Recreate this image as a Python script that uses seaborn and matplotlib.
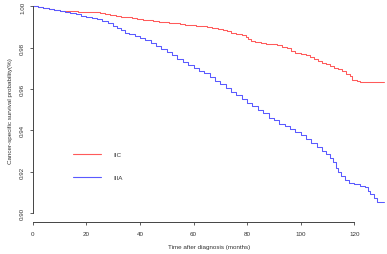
import matplotlib
matplotlib.use("Agg")
import matplotlib.pyplot as plt
import seaborn as sns
import pandas as pd
from matplotlib.lines import Line2D

groups = ["IIC", "IIIA"]
colors = ["#FF5A5A", "#5A5AFF"]

time_iic = [0, 2, 4, 6, 8, 10, 12, 14, 17, 20, 23, 25, 27, 29, 31, 33, 35, 37, 39, 41, 43,
            45, 47, 49, 51, 53, 55, 57, 59, 61, 63, 65, 67, 69, 71, 72.5, 74, 76, 78, 79.5,
            80.5, 81.5, 83, 85, 87, 89, 91, 93, 95, 96.5, 98, 100, 102, 103.5, 105, 106.5,
            108, 109.5, 111, 112.5, 114, 115.5, 117, 118.5, 119, 121, 122, 131]
surv_iic = [1.0, .9997, .9993, .9988, .9984, .9980, .9977, .9976, .9975, .9973, .9972, .9967,
            .9962, .9958, .9954, .9951, .9948, .9944, .9940, .9937, .9934, .9931, .9927, .9923,
            .9921, .9918, .9915, .9912, .9910, .9907, .9904, .9900, .9896, .9891, .9885, .9879,
            .9873, .9866, .9860, .9852, .9842, .9835, .9829, .9824, .9820, .9816, .9812, .9806,
            .9798, .9786, .9777, .9771, .9763, .9755, .9746, .9737, .9728, .9720, .9712, .9703,
            .9695, .9687, .9675, .9665, .9645, .9640, .9633, .9633]

time_iiia = [0, 2, 4, 6, 8, 10, 12, 14, 16, 18, 20, 22, 24, 26, 28, 30, 31.5, 33, 34.5, 36,
             38, 40, 42, 44, 46, 48, 50, 52, 54, 56, 58, 60, 62, 64, 66, 68, 70, 72, 74, 76,
             78, 80, 82, 84, 86, 88, 90, 92, 94, 96, 98, 100, 102, 104, 106, 108, 109.5, 111,
             112, 113, 113.8, 115, 116.5, 118, 120, 122, 124, 125, 126, 127.5, 128.4, 131]
surv_iiia = [1.0, .9996, .9991, .9986, .9982, .9978, .9974, .9968, .9962, .9956, .9950, .9944,
             .9938, .9928, .9918, .9907, .9898, .9884, .9874, .9866, .9858, .9848, .9836, .9822,
             .9808, .9792, .9778, .9764, .9746, .9732, .9716, .9704, .9690, .9678, .9660, .9641,
             .9624, .9606, .9588, .9570, .9550, .9532, .9516, .9500, .9484, .9462, .9448, .9433,
             .9420, .9408, .9392, .9376, .9358, .9340, .9322, .9302, .9286, .9268, .9248, .9218,
             .9198, .9180, .9160, .9146, .9138, .9132, .9124, .9105, .9092, .9075, .9052, .9052]

xticks = [0, 20, 40, 60, 80, 100, 120]
yticks = [0.90, 0.92, 0.94, 0.96, 0.98, 1.00]
ytick_labels = ["0.90", "0.92", "0.94", "0.96", "0.98", "1.00"]

df = pd.concat([
    pd.DataFrame({"time": time_iic, "surv": surv_iic, "group": "IIC"}),
    pd.DataFrame({"time": time_iiia, "surv": surv_iiia, "group": "IIIA"}),
])

sns.set_style("white")
plt.rcParams["font.family"] = ["Liberation Sans", "DejaVu Sans"]
fs = 4.5
axis_col = "#444444"

fig = plt.figure(figsize=(3.87, 2.55), dpi=100)
ax = fig.add_axes([32.7 / 387, 1 - 223 / 255, 353.8 / 387, 223 / 255])

sns.lineplot(data=df, x="time", y="surv", hue="group", hue_order=groups,
             palette=colors, estimator=None, sort=True, drawstyle="steps-post",
             linewidth=0.75, legend=False, ax=ax)

ax.set_xlim(0, 132)
ax.set_ylim(0.89564, 1.00363)

for s in ["top", "right"]:
    ax.spines[s].set_visible(False)
for s in ["left", "bottom"]:
    ax.spines[s].set_color(axis_col)
    ax.spines[s].set_linewidth(0.7)
ax.spines["left"].set_bounds(0.90, 1.00)
ax.spines["bottom"].set_bounds(0, 120)

ax.set_xticks(xticks)
ax.set_xticklabels([str(x) for x in xticks])
ax.set_yticks(yticks)
ax.set_yticklabels(ytick_labels, rotation=90, va="center")
ax.tick_params(axis="both", direction="out", length=2.4, width=0.6, color=axis_col,
               labelsize=fs, labelcolor="#333333", left=True, bottom=True)
ax.tick_params(axis="x", pad=4.0)
ax.tick_params(axis="y", pad=3.0)

ax.set_xlabel("Time after diagnosis (months)", fontsize=fs, color="#333333", labelpad=6)
ax.set_ylabel("Cancer-specific survival probability(%)", fontsize=fs, color="#333333", labelpad=5)
ax.grid(False)

handles = [Line2D([], [], color=c, lw=0.8) for c in colors]
fig.legend(handles, groups, loc="center left", bbox_to_anchor=(73 / 387, 1 - 167 / 255),
           frameon=False, fontsize=fs, handlelength=4.5, handletextpad=1.9,
           labelspacing=2.8, borderpad=0, borderaxespad=0, labelcolor="#333333")

fig.savefig("out.png", dpi=100)
